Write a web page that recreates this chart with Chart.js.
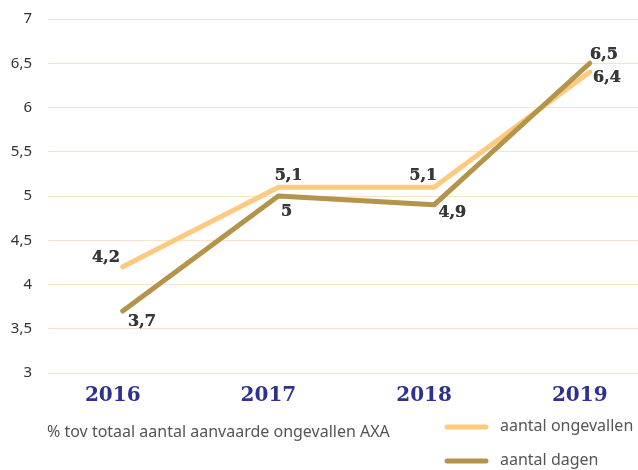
<!DOCTYPE html>
<html>
<head>
<meta charset="utf-8">
<script src="https://cdn.jsdelivr.net/npm/chart.js@4.4.1/dist/chart.umd.min.js"></script>
<style>
    html, body { margin: 0; padding: 0; background: #ffffff; overflow: hidden; }
    #wrap { width: 638px; height: 470px; position: relative; }
</style>
</head>
<body>
<div id="wrap"><canvas id="ongevallenChart"></canvas></div>
<script>
// ----------- data
var jaren = [2016, 2017, 2018, 2019];
var aantalOngevallen = [4.2, 5.1, 5.1, 6.4];
var aantalDagen = [3.7, 5, 4.9, 6.5];
var yTicks = [3, 3.5, 4, 4.5, 5, 5.5, 6, 6.5, 7];
var reeksNamen = ['aantal ongevallen', 'aantal dagen'];
var voetnoot = '% tov totaal aantal aanvaarde ongevallen AXA';

// ----------- styles
var kleurLicht = '#FDCA80';
var kleurDonker = '#B3944A';
var serif = '"DejaVu Serif", "Liberation Serif", serif';
var sans = '"Noto Sans", "Open Sans", sans-serif';

// label offsets (dx, dy) from each point, per series
var labelOffsetLicht = [[-17, -9], [10, -11], [-11, -11], [17, 6]];
var labelOffsetDonker = [[19, 11], [8, 16], [18, 8], [14, -8]];

function komma(v) {
    return String(v).replace('.', ',');
}

var puntLabels = {
    id: 'puntLabels',
    afterDatasetsDraw: function (chart) {
        var ctx = chart.ctx;
        ctx.save();
        ctx.font = 'bold 16px ' + serif;
        ctx.fillStyle = '#383838';
        ctx.textAlign = 'center';
        ctx.textBaseline = 'middle';
        chart.data.datasets.forEach(function (ds, i) {
            var meta = chart.getDatasetMeta(i);
            meta.data.forEach(function (pt, j) {
                var off = ds.labelOffsets[j];
                var t = komma(ds.data[j].y);
                // slight double strike so the serif reads as heavy as the original
                ctx.fillText(t, pt.x + off[0], pt.y + off[1]);
                ctx.fillText(t, pt.x + off[0] + 0.4, pt.y + off[1]);
            });
        });
        ctx.restore();
    }
};

var legendeEnNoot = {
    id: 'legendeEnNoot',
    afterDraw: function (chart) {
        var ctx = chart.ctx;
        ctx.save();
        ctx.font = '16px ' + sans;
        ctx.fillStyle = '#555555';
        ctx.textBaseline = 'middle';
        ctx.textAlign = 'left';
        ctx.fillText(voetnoot, 47, 432);

        var items = [
            { naam: reeksNamen[0], kleur: kleurLicht, y: 427 },
            { naam: reeksNamen[1], kleur: kleurDonker, y: 461 }
        ];
        items.forEach(function (it) {
            ctx.strokeStyle = it.kleur;
            ctx.lineWidth = 5;
            ctx.lineCap = 'round';
            ctx.beginPath();
            ctx.moveTo(447, it.y);
            ctx.lineTo(486, it.y);
            ctx.stroke();
            ctx.fillText(it.naam, 500, it.y - 1);
        });
        ctx.restore();
    }
};

var canvas = document.getElementById('ongevallenChart');
canvas.width = 638;
canvas.height = 470;

var ongevallenChart = new Chart(canvas.getContext('2d'), {
    type: 'line',
    data: {
        datasets: [
            {
                label: reeksNamen[1],
                data: jaren.map(function (j, i) { return { x: j, y: aantalDagen[i] }; }),
                borderColor: kleurDonker,
                labelOffsets: labelOffsetDonker,
                order: 0
            },
            {
                label: reeksNamen[0],
                data: jaren.map(function (j, i) { return { x: j, y: aantalOngevallen[i] }; }),
                borderColor: kleurLicht,
                labelOffsets: labelOffsetLicht,
                order: 1
            }
        ]
    },
    options: {
        responsive: false,
        animation: false,
        layout: { padding: { top: 19, right: 0, bottom: 0, left: 0 } },
        elements: {
            line: { borderWidth: 5, tension: 0, borderCapStyle: 'round', borderJoinStyle: 'round', fill: false },
            point: { radius: 0, hoverRadius: 0 }
        },
        plugins: {
            legend: { display: false },
            tooltip: { enabled: false }
        },
        scales: {
            x: {
                type: 'linear',
                min: 2015.52,
                max: 2019.31,
                grid: { display: false },
                border: { display: false },
                afterBuildTicks: function (scale) {
                    scale.ticks = jaren.map(function (j) { return { value: j }; });
                },
                afterFit: function (scale) {
                    scale.height = 97;
                    scale.paddingLeft = 0;
                    scale.paddingRight = 0;
                },
                ticks: {
                    padding: 3,
                    labelOffset: -10,
                    autoSkip: false,
                    maxRotation: 0,
                    color: '#2E3190',
                    font: { family: serif, size: 20, weight: 'bold' },
                    callback: function (v) { return String(v); }
                }
            },
            y: {
                min: 3,
                max: 7,
                grid: { color: '#F8E4C8', lineWidth: 1, drawTicks: false },
                border: { display: false },
                afterBuildTicks: function (scale) {
                    scale.ticks = yTicks.map(function (v) { return { value: v }; });
                },
                afterFit: function (scale) {
                    scale.width = 48;
                    scale.paddingTop = 0;
                    scale.paddingBottom = 0;
                },
                ticks: {
                    padding: 16,
                    color: '#333333',
                    font: { family: sans, size: 15 },
                    callback: function (v) { return komma(v); }
                }
            }
        }
    },
    plugins: [puntLabels, legendeEnNoot]
});
</script>
</body>
</html>
